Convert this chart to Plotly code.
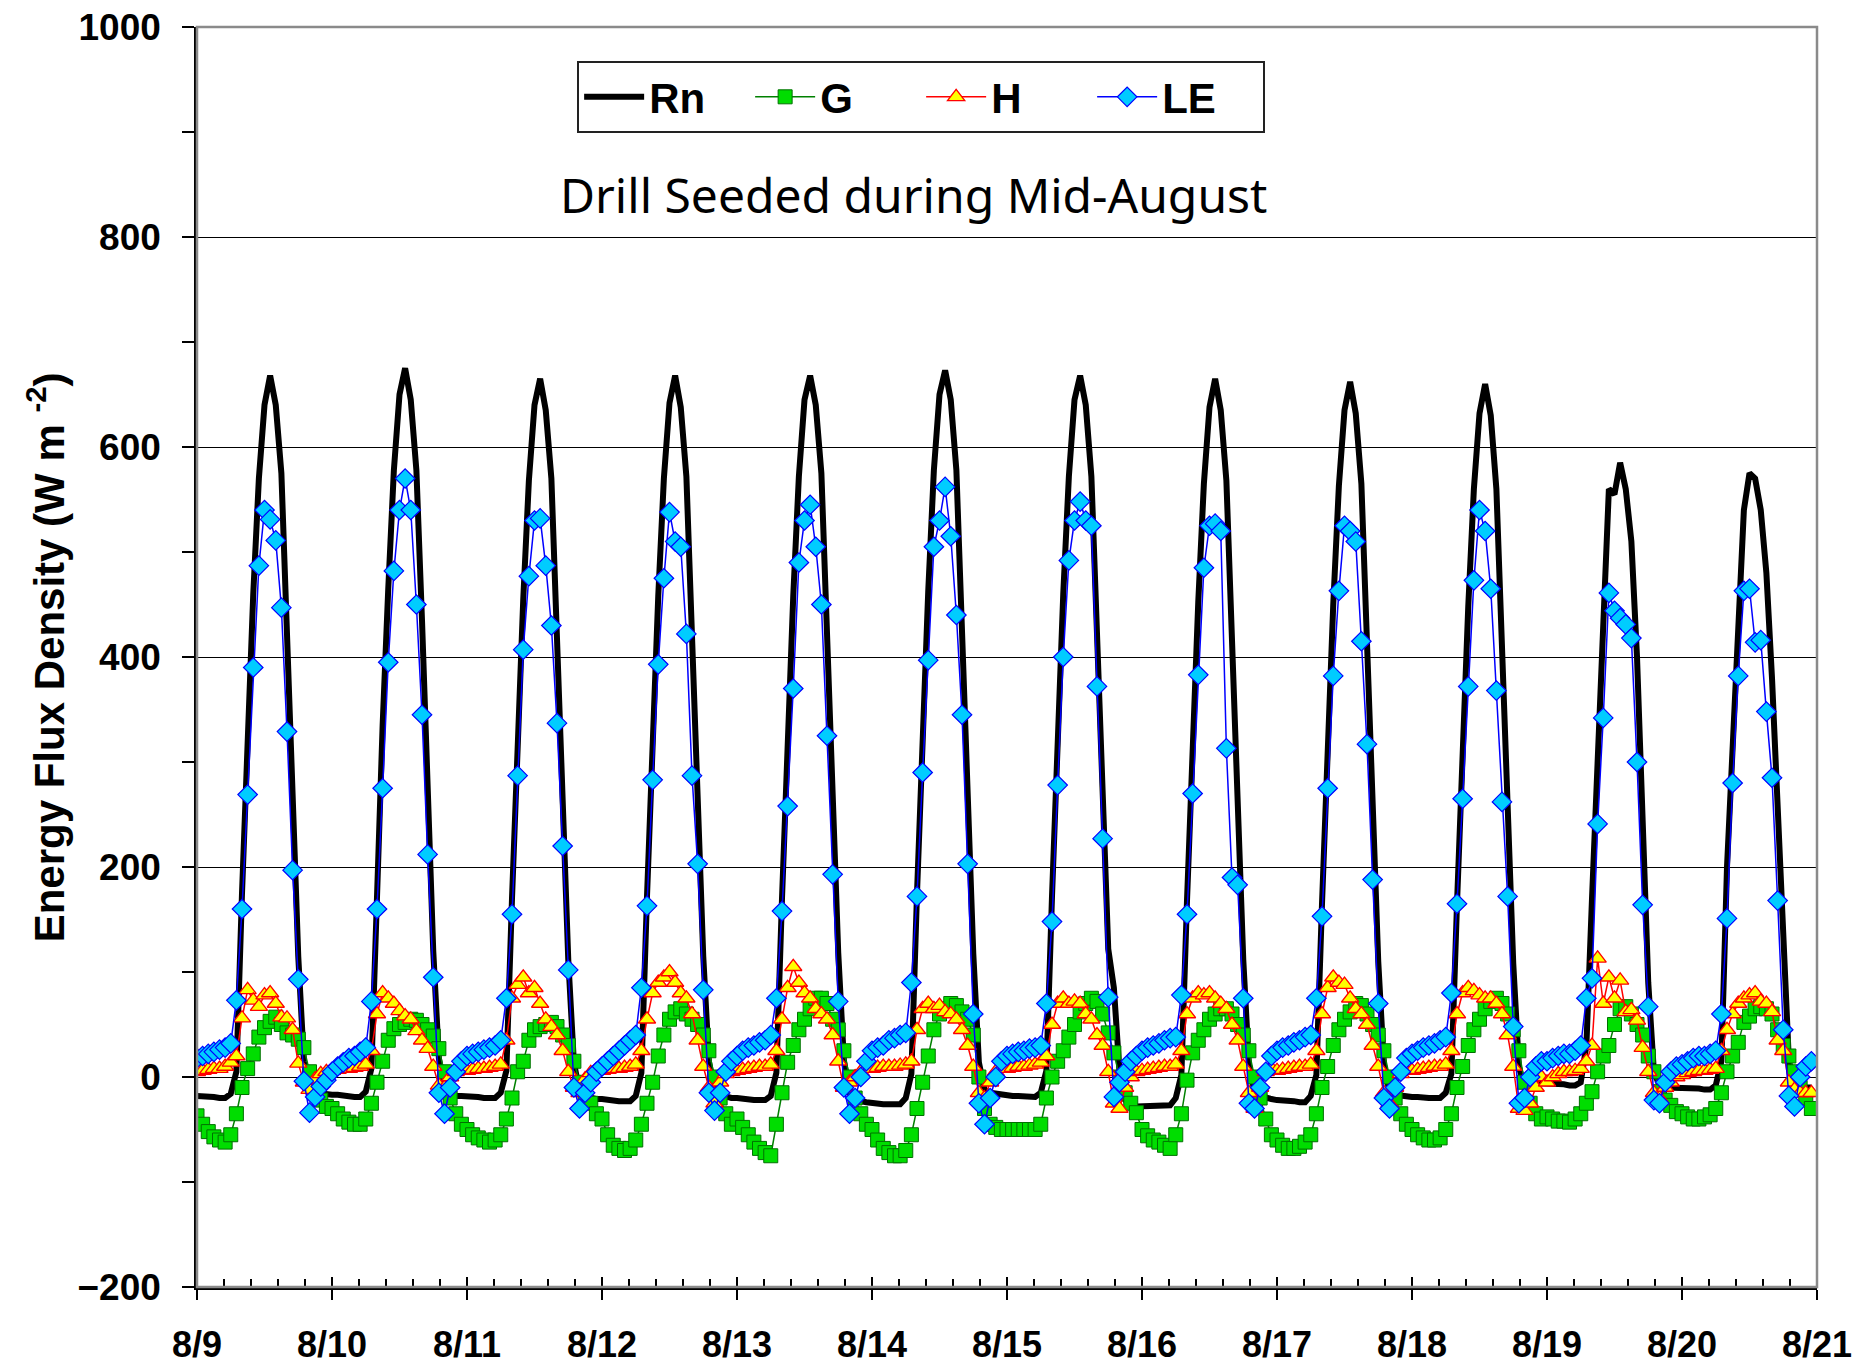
import plotly.graph_objects as go

day_labels = ["8/9", "8/10", "8/11", "8/12", "8/13", "8/14", "8/15",
              "8/16", "8/17", "8/18", "8/19", "8/20", "8/21"]
hours = list(range(24))

# Hourly values, one row of 24 per day (8/9 ... 8/20)
rn = [
    -18,-18,-19,-19,-20,-20,-16,5,175,330,460,570,640,668,640,575,430,270,115,15,-12,-15,-16,-17,
    -17,-17,-18,-18,-19,-19,-14,8,180,335,465,578,650,675,645,578,435,275,120,18,-12,-16,-18,-18,
    -18,-19,-19,-20,-20,-20,-15,6,170,325,455,568,640,665,635,570,428,268,112,14,-14,-18,-20,-21,
    -21,-22,-22,-23,-23,-23,-18,4,172,328,458,570,642,668,638,572,430,270,115,15,-13,-17,-19,-20,
    -20,-21,-21,-22,-22,-22,-18,4,170,326,458,572,645,668,640,575,432,272,118,16,-15,-20,-23,-24,
    -25,-25,-26,-26,-26,-26,-20,3,175,332,463,578,650,673,645,578,435,275,118,14,-12,-15,-16,-17,
    -17,-18,-18,-18,-19,-19,-15,6,172,328,460,572,645,668,640,572,425,268,122,85,5,-22,-26,-28,
    -28,-28,-28,-28,-28,-27,-20,2,168,322,452,565,638,665,635,568,425,268,112,12,-14,-18,-20,-21,
    -22,-22,-23,-23,-24,-24,-18,2,165,320,450,563,635,662,632,565,422,265,110,12,-14,-17,-18,-19,
    -19,-19,-20,-20,-20,-20,-15,3,165,318,448,560,632,660,630,560,418,262,108,10,-10,-8,-6,-6,
    -6,-6,-7,-7,-8,-8,-5,30,170,300,440,560,555,585,560,510,400,240,90,5,-8,-10,-10,-11,
    -10,-10,-11,-11,-12,-12,-8,15,200,320,440,540,575,570,540,480,380,260,120,15,-8,-10,-10,-10,
]

g = [
    -37,-45,-52,-57,-60,-62,-55,-35,-10,8,22,38,47,53,57,50,42,40,36,28,5,-12,-22,-28,
    -30,-35,-40,-43,-45,-45,-40,-25,-5,15,35,46,50,52,55,54,50,45,39,27,5,-20,-35,-45,
    -50,-55,-58,-60,-62,-60,-55,-40,-20,5,15,35,45,48,50,52,48,40,30,15,-5,-15,-25,-35,
    -40,-55,-65,-68,-70,-68,-60,-45,-25,-5,20,40,55,62,65,60,55,50,40,25,0,-20,-35,-45,
    -40,-48,-55,-62,-68,-72,-75,-45,-15,14,30,45,55,65,75,75,70,55,45,25,0,-20,-35,-45,
    -50,-60,-68,-72,-75,-75,-70,-55,-30,-5,20,45,60,65,70,68,62,55,40,0,-30,-45,-48,-50,
    -50,-50,-50,-50,-50,-50,-45,-20,0,15,25,38,50,62,70,75,72,60,42,23,0,-15,-25,-34,
    -50,-56,-60,-62,-65,-68,-55,-35,-3,23,35,45,55,60,65,65,60,50,40,25,0,-20,-40,-55,
    -60,-65,-68,-68,-66,-62,-55,-35,-10,10,30,45,55,62,70,68,60,50,40,25,0,-20,-35,-45,
    -50,-55,-58,-60,-60,-58,-50,-35,-10,10,30,45,55,65,72,75,70,60,45,25,-5,-25,-35,-40,
    -38,-40,-42,-42,-43,-40,-35,-25,-14,5,20,30,50,65,67,60,50,40,20,5,-14,-22,-27,-33,
    -35,-38,-40,-40,-38,-36,-30,-15,5,20,33,52,58,65,67,65,60,45,30,20,5,-10,-20,-30,
]

h = [
    5,6,7,8,8,10,14,20,56,83,73,67,78,80,70,57,56,45,13,-5,-12,-2,3,5,
    6,7,8,8,9,10,12,25,60,80,75,70,63,58,55,44,35,27,10,-8,-10,0,5,6,
    6,7,8,8,9,10,12,35,75,88,95,80,85,70,55,48,40,25,5,-10,-15,-2,4,6,
    6,7,8,8,9,10,12,25,55,80,90,95,100,90,80,75,60,35,10,-10,-25,-5,3,5,
    6,7,8,9,10,10,12,25,55,85,105,90,80,75,65,60,55,40,15,-10,-5,0,5,8,
    8,9,10,10,10,11,12,15,45,65,70,65,68,62,60,55,45,30,10,-15,-20,-5,5,8,
    8,9,10,10,11,12,14,20,50,70,75,70,72,70,60,55,40,30,5,-25,-30,-10,0,5,
    6,7,8,9,10,10,12,25,60,75,80,78,80,75,70,65,50,35,10,-15,-30,-10,5,8,
    6,7,8,9,10,10,12,25,60,85,95,90,88,75,65,60,50,30,10,-15,-25,-10,3,6,
    6,7,8,9,10,10,12,25,60,80,85,82,78,75,75,70,60,40,10,-30,-32,-25,-10,0,
    -5,0,3,5,5,6,8,15,30,113,70,95,75,92,62,64,54,28,5,-15,-20,-10,-5,0,
    2,4,5,6,6,7,8,25,45,60,70,75,78,80,72,70,62,35,25,-5,-12,-15,-15,-15,
]

le = [
    18,20,22,24,26,28,32,73,160,269,390,487,540,531,511,447,329,197,93,-4,-34,-19,-9,-3,
    5,10,14,18,20,24,28,72,160,275,395,482,540,570,540,450,345,212,95,-15,-35,-10,5,15,
    20,22,24,26,28,30,35,75,155,287,407,477,530,532,487,430,337,220,102,-10,-30,-15,-5,5,
    10,15,20,25,30,35,40,85,163,283,393,475,538,510,505,422,287,203,83,-15,-32,-15,5,15,
    20,25,28,30,33,35,40,75,158,258,370,490,530,545,505,450,325,193,72,-10,-35,-20,0,15,
    25,28,30,35,37,40,42,90,172,290,397,505,530,562,515,440,345,203,60,-25,-45,-20,0,15,
    20,22,24,25,27,28,30,70,148,278,400,492,530,548,530,525,372,227,76,-19,-5,5,15,20,
    25,28,30,32,35,37,38,78,155,270,383,485,525,527,520,313,190,183,75,-25,-30,-10,5,20,
    25,28,30,33,35,38,40,75,153,275,382,463,525,520,510,415,317,188,70,-20,-30,-10,5,18,
    22,25,28,30,32,35,38,80,165,265,372,473,540,520,465,368,262,172,48,-25,-20,0,10,15,
    15,18,20,22,22,25,30,75,94,241,342,461,444,437,431,418,300,164,67,-22,-25,-5,5,10,
    12,15,18,20,20,22,25,60,151,280,382,463,465,414,416,348,285,168,45,-18,-28,0,10,15,
]

n_days = len(day_labels) - 1
t = [d + hr / 24 for d in range(n_days) for hr in hours]

narrow = "Liberation Sans Narrow, Arial Narrow, Liberation Sans, Arial, sans-serif"

fig = go.Figure()
fig.add_trace(go.Scatter(x=t, y=rn, name="Rn", mode="lines",
                         line=dict(color="black", width=6)))
fig.add_trace(go.Scatter(x=t, y=g, name="G", mode="lines+markers",
                         line=dict(color="#008000", width=1.5),
                         marker=dict(symbol="square", size=14, color="#00DD00",
                                     line=dict(color="#007000", width=1))))
fig.add_trace(go.Scatter(x=t, y=h, name="H", mode="lines+markers",
                         line=dict(color="#FF0000", width=1.5),
                         marker=dict(symbol="triangle-up", size=15, color="#FFFF00",
                                     line=dict(color="#FF0000", width=1.3))))
fig.add_trace(go.Scatter(x=t, y=le, name="LE", mode="lines+markers",
                         line=dict(color="#0000FF", width=1.5),
                         marker=dict(symbol="diamond", size=15, color="#00CCFF",
                                     line=dict(color="#0000FF", width=1.2))))
# overlay axis used only for the inner half of the crossing day ticks
fig.add_trace(go.Scatter(x=[], y=[], xaxis="x2", showlegend=False, hoverinfo="skip"))

fig.update_layout(
    width=1872, height=1370,
    margin=dict(l=189, r=63, t=19, b=91),
    paper_bgcolor="white", plot_bgcolor="white",
    showlegend=True,
    legend=dict(orientation="h", x=0.447, y=0.973, xanchor="center", yanchor="top",
                bgcolor="white", bordercolor="#222222", borderwidth=2,
                font=dict(family=narrow, size=42, color="black", weight="bold"),
                itemwidth=60, entrywidth=96, tracegroupgap=0),
    xaxis=dict(range=[0, n_days], tickmode="array", automargin=False,
               tickvals=list(range(len(day_labels))), ticktext=day_labels,
               ticks="outside", ticklen=10, tickwidth=1.5, tickcolor="black",
               showgrid=False, zeroline=False, ticklabeloverflow="allow",
               showline=True, linecolor="black", linewidth=2.5,
               ticklabelstandoff=14,
               tickfont=dict(family=narrow, size=36, color="black", weight="bold"),
               minor=dict(tickmode="array",
                          tickvals=[i / 5 for i in range(n_days * 5 + 1) if i % 5],
                          ticks="inside", ticklen=8, tickwidth=1.5, tickcolor="black",
                          showgrid=False)),
    xaxis2=dict(range=[0, n_days], overlaying="x", side="bottom", anchor="y",
                automargin=False,
                tickmode="array", tickvals=list(range(len(day_labels))),
                ticks="inside", ticklen=10, tickwidth=1.5, tickcolor="black",
                showticklabels=False, showgrid=False, zeroline=False, showline=False),
    yaxis=dict(range=[-200, 1000], tickmode="linear", tick0=-200, dtick=200,
               automargin=False, ticklabeloverflow="allow",
               ticks="outside", ticklen=12, tickwidth=1.5, tickcolor="black",
               showgrid=True, gridcolor="black", gridwidth=1.3,
               zeroline=False, showline=True, linecolor="black", linewidth=2.5,
               ticklabelstandoff=14,
               tickfont=dict(family="Liberation Sans, Arial, sans-serif", size=37,
                             color="black", weight="bold"),
               minor=dict(dtick=100, tick0=-200, ticks="outside", ticklen=12,
                          tickwidth=1.5, tickcolor="black", showgrid=False)),
    shapes=[dict(type="rect", xref="paper", yref="paper", x0=0, x1=1, y0=0, y1=1,
                 line=dict(color="#8a8a8a", width=2.5), layer="above")],
    annotations=[
        dict(text="Energy Flux Density (W m <sup>-2</sup>)", xref="paper", yref="paper",
             x=-0.093, y=0.5, xanchor="center", yanchor="middle", textangle=-90,
             showarrow=False,
             font=dict(family=narrow, size=42, color="black", weight="bold")),
        dict(text="Drill Seeded during Mid-August", xref="paper", yref="paper",
             x=0.442, y=0.867, xanchor="center", yanchor="middle", showarrow=False,
             font=dict(family="Comic Sans MS, Noto Sans, sans-serif", size=48,
                       color="black")),
    ],
)

fig.write_html("out.html")
